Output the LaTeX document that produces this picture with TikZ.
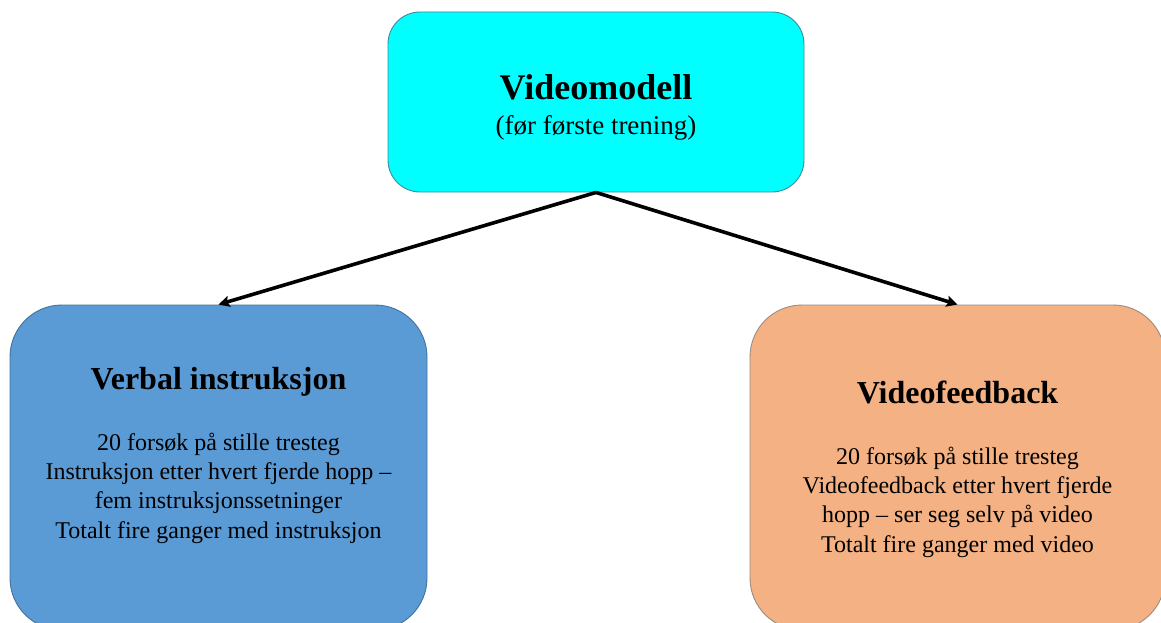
\documentclass[tikz,border=0pt]{standalone}
\usepackage{fontspec}
\setmainfont{Liberation Serif}
\usetikzlibrary{arrows.meta}
\definecolor{topfill}{HTML}{00FFFF}
\definecolor{topline}{HTML}{3C8C9C}
\definecolor{leftfill}{HTML}{5B9BD5}
\definecolor{leftline}{HTML}{41719C}
\definecolor{rightfill}{HTML}{F4B183}
\definecolor{rightline}{HTML}{9C8C80}
\tikzset{
  box/.style={rectangle, inner sep=0pt, line width=0.9pt},
  title/.style={font=\fontsize{36}{40}\selectfont\bfseries, anchor=base, inner sep=0pt},
  heading/.style={font=\fontsize{32}{36}\selectfont\bfseries, anchor=base, inner sep=0pt},
  sub/.style={font=\fontsize{27}{30}\selectfont, anchor=base, inner sep=0pt},
  body/.style={font=\fontsize{24}{29.3}\selectfont, align=center, inner sep=0pt},
  arr/.style={-{Stealth[length=11pt,width=11pt,inset=2pt]}, line width=3.6pt, black}
}
\begin{document}
\begin{tikzpicture}[x=1pt,y=-1pt]
\useasboundingbox (0,0) rectangle (1161,623);
\begin{scope}
\clip (0,0) rectangle (1161,623);
\node[box, draw=topline, fill=topfill, rounded corners=32pt, minimum width=416pt, minimum height=180pt] (top) at (596,102) {};
\node[box, draw=leftline, fill=leftfill, rounded corners=52pt, minimum width=417pt, minimum height=325pt] (left) at (218.5,467.5) {};
\node[box, draw=rightline, fill=rightfill, rounded corners=52pt, minimum width=415pt, minimum height=325pt] (right) at (957.5,467.5) {};
\end{scope}
\node[title] (toptitle) at (596,100) {Videomodell};
\node[sub] (topsub) at (596,135) {(før første trening)};
\node[heading] (lefthead) at (218.5,389) {Verbal instruksjon};
\node[body] (leftbody) at (218.5,488) {20 forsøk på stille tresteg\\Instruksjon etter hvert fjerde hopp –\\fem instruksjonssetninger\\Totalt fire ganger med instruksjon};
\node[heading] (righthead) at (957.5,403) {Videofeedback};
\node[body] (rightbody) at (957.5,502) {20 forsøk på stille tresteg\\Videofeedback etter hvert fjerde\\hopp – ser seg selv på video\\Totalt fire ganger med video};
\draw[arr] (top.south) -- (left.north);
\draw[arr] (top.south) -- (right.north);
\end{tikzpicture}
\end{document}
